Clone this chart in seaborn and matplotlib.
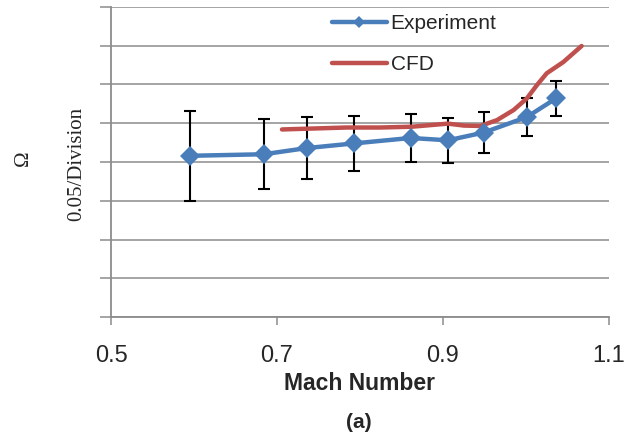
import matplotlib
matplotlib.use("Agg")
import matplotlib.pyplot as plt
import seaborn as sns
import pandas as pd

# Experimental measurements (Mach number, Omega, symmetric error)
exp_mach = [0.595, 0.684, 0.736, 0.793, 0.861, 0.906, 0.949, 1.001, 1.036]
exp_omega = [0.208, 0.210, 0.218, 0.224, 0.231, 0.228, 0.238, 0.258, 0.282]
exp_err = [0.058, 0.045, 0.040, 0.036, 0.031, 0.029, 0.027, 0.024, 0.023]

# CFD prediction
cfd_mach = [0.706, 0.784, 0.824, 0.862, 0.884, 0.906, 0.925, 0.945, 0.965,
            0.985, 1.001, 1.013, 1.025, 1.045, 1.067]
cfd_omega = [0.242, 0.2445, 0.2445, 0.2455, 0.2475, 0.2495, 0.247, 0.2465, 0.254,
             0.267, 0.282, 0.299, 0.3145, 0.329, 0.3497]

x_ticks = [0.5, 0.7, 0.9, 1.1]
x_tick_labels = ["0.5", "0.7", "0.9", "1.1"]

sns.set_theme(style="white")
plt.rcParams["font.family"] = ["Liberation Sans", "DejaVu Sans"]

BLUE = "#4A7EBB"
RED = "#C0504D"
GRID = "#8C8C8C"

exp_df = pd.DataFrame({"Mach": exp_mach, "Omega": exp_omega, "err": exp_err})
cfd_df = pd.DataFrame({"Mach": cfd_mach, "Omega": cfd_omega})

fig = plt.figure(figsize=(6.42, 4.38), dpi=100)
ax = fig.add_axes([111 / 642, 1 - 317 / 438, (609 - 111) / 642, (317 - 7) / 438])

# horizontal grid every 0.05
ax.set_ylim(0, 0.4)
ax.set_xlim(0.5, 1.1)
yt = [i * 0.05 for i in range(9)]
ax.set_yticks(yt)
ax.set_yticklabels([])
ax.yaxis.grid(True, color=GRID, linewidth=1.1)
ax.xaxis.grid(False)
ax.set_axisbelow(True)

ax.errorbar(exp_df["Mach"], exp_df["Omega"], yerr=exp_df["err"], fmt="none",
            ecolor="black", elinewidth=1.5, capsize=4.5, capthick=1.5, zorder=2)

sns.lineplot(data=cfd_df, x="Mach", y="Omega", ax=ax, color=RED, linewidth=3.2,
             label="CFD", sort=False, zorder=3, solid_capstyle="round",
             solid_joinstyle="round")
sns.lineplot(data=exp_df, x="Mach", y="Omega", ax=ax, color=BLUE, linewidth=3.2,
             marker="D", markersize=10, markeredgewidth=0, label="Experiment",
             sort=False, zorder=4, solid_capstyle="round")

ax.set_xticks(x_ticks)
ax.set_xticklabels(x_tick_labels)
ax.tick_params(axis="x", direction="out", length=6, width=1.1, color=GRID,
               labelsize=17, pad=14, bottom=True)
ax.tick_params(axis="y", direction="out", length=8, width=1.1, color=GRID,
               left=True)

for side in ("top", "right"):
    ax.spines[side].set_visible(False)
for side in ("left", "bottom"):
    ax.spines[side].set_color(GRID)
    ax.spines[side].set_linewidth(1.3)

ax.set_xlabel("Mach Number", fontsize=16.5, fontweight="bold", labelpad=4)
ax.set_ylabel("")

handles, labels = ax.get_legend_handles_labels()
order = [labels.index("Experiment"), labels.index("CFD")]
leg = ax.legend([handles[i] for i in order], [labels[i] for i in order],
                loc="upper left", bbox_to_anchor=((324 - 111) / 498, 1.004),
                frameon=False, fontsize=15, handlelength=2.6, handletextpad=0.2,
                labelspacing=1.05, markerscale=0.6, borderaxespad=0)

fig.text(23 / 642, 1 - 158 / 438, "Ω", rotation=90, ha="center", va="center",
         family="Liberation Serif", fontsize=15)
fig.text(77 / 642, 1 - 164 / 438, "0.05/Division", rotation=90, ha="center",
         va="center", family="Liberation Serif", fontsize=15)
fig.text(359 / 642, 1 - 422 / 438, "(a)", ha="center", va="center",
         fontsize=15, fontweight="bold")

fig.savefig("out.png", dpi=100)
